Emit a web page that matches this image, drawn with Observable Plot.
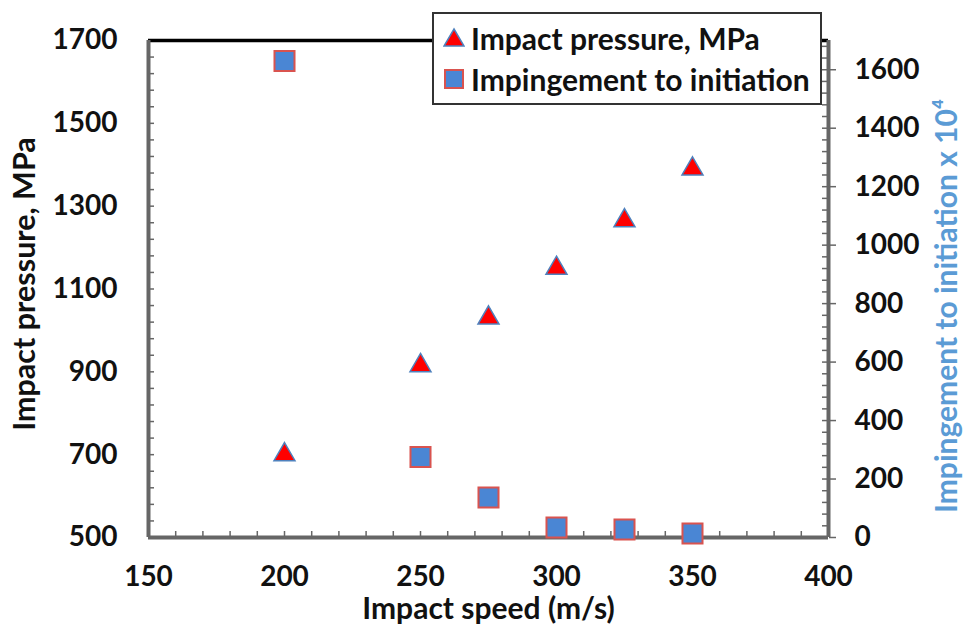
<!DOCTYPE html>
<html>
<head>
<meta charset="utf-8">
<script src="https://cdn.jsdelivr.net/npm/d3@7"></script>
<script src="https://cdn.jsdelivr.net/npm/@observablehq/plot@0.6"></script>
<style>
  html, body { margin: 0; padding: 0; background: white; }
  #wrap { position: relative; width: 965px; height: 625px; }
  #legend {
    position: absolute; left: 432px; top: 12px; width: 386px; height: 89px;
    border: 2px solid #333; background: white; font-family: Lato, sans-serif;
    font-weight: bold; font-size: 30px; color: #111;
  }
  .row { position: absolute; left: 9px; display: flex; align-items: center; white-space: nowrap; }
  .row svg { margin-right: 6px; }
</style>
</head>
<body>
<div id="wrap"></div>
<script>
const speed = [200, 250, 275, 300, 325, 350];
const pressure = [700, 915, 1030, 1150, 1265, 1390];
const impingement = [1630, 275, 137, 34, 27, 14];

const xTicks = [150, 200, 250, 300, 350, 400];
const yTicks = [500, 700, 900, 1100, 1300, 1500, 1700];
const rTicks = [0, 200, 400, 600, 800, 1000, 1200, 1400, 1600];
const xMinor = d3.range(150, 401, 10);
const yMinor = d3.range(500, 1701, 40);
const rMinor = d3.range(0, 1701, 40);

const leftDomain = [500, 1700];
const rightDomain = [0, 1700];
const toLeft = v => leftDomain[0] + (v - rightDomain[0]) * (leftDomain[1] - leftDomain[0]) / (rightDomain[1] - rightDomain[0]);
const fromLeft = v => rightDomain[0] + (v - leftDomain[0]) * (rightDomain[1] - rightDomain[0]) / (leftDomain[1] - leftDomain[0]);

const data = speed.map((s, i) => ({speed: s, pressure: pressure[i], imp: impingement[i]}));

const axisColor = "#666";
const font = "Lato, sans-serif";

const chart = Plot.plot({
  width: 965, height: 625,
  marginLeft: 148, marginRight: 137, marginTop: 40, marginBottom: 88,
  x: {domain: [150, 400]},
  y: {domain: leftDomain},
  style: {fontFamily: font, background: "white", color: "#111", overflow: "visible"},
  marks: [
    Plot.tickX(xMinor, {insetTop: 491, stroke: axisColor, strokeWidth: 1.5}),
    Plot.tickY(yMinor, {insetRight: 674, stroke: axisColor, strokeWidth: 1.5}),
    Plot.tickY(rMinor.map(toLeft), {insetLeft: 674, stroke: axisColor, strokeWidth: 1.5}),
    Plot.ruleY([leftDomain[1]], {stroke: "black", strokeWidth: 3.5}),
    Plot.ruleY([leftDomain[0]], {stroke: axisColor, strokeWidth: 4}),
    Plot.ruleX([150], {stroke: axisColor, strokeWidth: 4}),
    Plot.ruleX([400], {stroke: axisColor, strokeWidth: 4}),
    Plot.axisX({ticks: xTicks, tickFormat: d => String(d), tickSize: 0, tickPadding: 29, fontSize: 28, fontWeight: "bold", label: null}),
    Plot.axisY({ticks: yTicks, tickFormat: d => String(d), tickSize: 0, tickPadding: 31, fontSize: 28, fontWeight: "bold", label: null}),
    Plot.axisY({anchor: "right", ticks: rTicks.map(toLeft), tickFormat: d => String(Math.round(fromLeft(d))),
                tickSize: 7, tickPadding: 19, stroke: axisColor, strokeWidth: 1.5,
                fontSize: 28, fontWeight: "bold", label: null}),
    Plot.dot(data, {x: "speed", y: "pressure", symbol: "triangle", r: 7.8,
                    fill: "#ff0000", stroke: "#4f81bd", strokeWidth: 1.5}),
    Plot.dot(data, {x: "speed", y: d => toLeft(d.imp), symbol: "square", r: 11.3,
                    fill: "#4a86d4", stroke: "#d9534f", strokeWidth: 2}),
    Plot.text(["Impact speed (m/s)"], {frameAnchor: "bottom", lineAnchor: "middle", textAnchor: "middle", dy: 72, fontSize: 30, fontWeight: "bold", fill: "#111"}),
    Plot.text(["Impact pressure, MPa"], {frameAnchor: "left", textAnchor: "middle", lineAnchor: "middle", dx: -123, dy: -5, rotate: -90, fontSize: 30.5, fontWeight: "bold", fill: "#111"}),
    Plot.text(["Impingement to initiation x 10⁴"], {frameAnchor: "right", textAnchor: "middle", lineAnchor: "middle", dx: 119, dy: 17, rotate: -90, fontSize: 30, fontWeight: "bold", fill: "#5b9bd5"})
  ]
});

const wrap = document.getElementById("wrap");
wrap.appendChild(chart);

const legend = document.createElement("div");
legend.id = "legend";
legend.innerHTML = `
  <div class="row" style="top:5px;height:38px;">
    <svg width="22" height="22" viewBox="-11 -11 22 22"><path d="M0,-9L10,8L-10,8Z" fill="#ff0000" stroke="#4f81bd" stroke-width="1.5"/></svg>
    <span>Impact pressure, MPa</span>
  </div>
  <div class="row" style="top:46px;height:38px;">
    <svg width="22" height="22" viewBox="-11 -11 22 22"><rect x="-9" y="-9" width="18" height="18" fill="#4a86d4" stroke="#d9534f" stroke-width="2"/></svg>
    <span>Impingement to initiation</span>
  </div>`;
wrap.appendChild(legend);
</script>
</body>
</html>
